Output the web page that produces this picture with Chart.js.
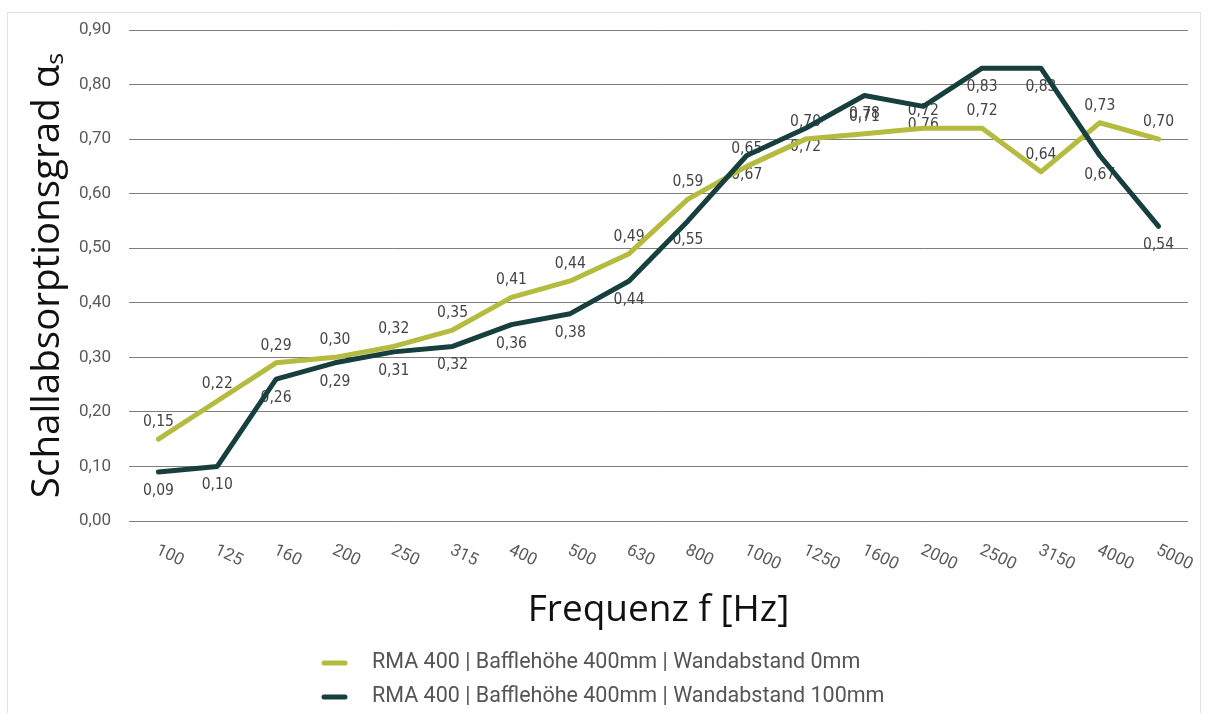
<!DOCTYPE html>
<html>
<head>
<meta charset="utf-8">
<script src="https://cdn.jsdelivr.net/npm/chart.js@4.4.0/dist/chart.umd.min.js"></script>
<style>
    html, body { margin: 0; padding: 0; background: #fff; }
    #frame { position: absolute; left: 7px; top: 12px; width: 1192px; height: 720px; border: 1px solid #e2e2e2; }
    #wrap { position: absolute; left: 0; top: 0; width: 1208px; height: 713px; }
</style>
</head>
<body>
<div id="frame"></div>
<div id="wrap"><canvas id="chart"></canvas></div>
<script>
const frequencies = ["100", "125", "160", "200", "250", "315", "400", "500", "630", "800", "1000", "1250", "1600", "2000", "2500", "3150", "4000", "5000"];
const wall0mm = [0.15, 0.22, 0.29, 0.30, 0.32, 0.35, 0.41, 0.44, 0.49, 0.59, 0.65, 0.70, 0.71, 0.72, 0.72, 0.64, 0.73, 0.70];
const wall100mm = [0.09, 0.10, 0.26, 0.29, 0.31, 0.32, 0.36, 0.38, 0.44, 0.55, 0.67, 0.72, 0.78, 0.76, 0.83, 0.83, 0.67, 0.54];
const seriesNames = ["RMA 400 | Bafflehöhe 400mm | Wandabstand 0mm", "RMA 400 | Bafflehöhe 400mm | Wandabstand 100mm"];

const yellow = "#b4bb3e";
const darkGreen = "#173f3d";
const narrow = "'Liberation Sans Narrow', 'DejaVu Sans Condensed', sans-serif";
const comma = (v) => Number(v).toFixed(2).replace(".", ",");

// labels, rotated tick texts and the legend are painted by hand
const extrasPlugin = {
    id: "extras",
    beforeDatasetsDraw(chart) {
        const ctx = chart.ctx;
        ctx.save();
        ctx.font = `15.5px ${narrow}`;
        ctx.fillStyle = "#444";
        ctx.textAlign = "center";
        ctx.textBaseline = "middle";
        chart.data.datasets.forEach((ds, i) => {
            const meta = chart.getDatasetMeta(i);
            const shift = i === 0 ? -17 : 19;
            meta.data.forEach((pt, j) => ctx.fillText(comma(ds.data[j]), pt.x, pt.y + shift));
        });
        ctx.restore();
    },
    afterDraw(chart) {
        const ctx = chart.ctx;
        const x = chart.scales.x;
        ctx.save();
        ctx.font = "17px Roboto, sans-serif";
        ctx.fillStyle = "#5a5a5a";
        ctx.textAlign = "left";
        ctx.textBaseline = "top";
        frequencies.forEach((f, i) => {
            ctx.save();
            ctx.translate(x.getPixelForValue(i) + 2, x.top + 21);
            ctx.rotate(25 * Math.PI / 180);
            ctx.fillText(f, 0, 0);
            ctx.restore();
        });

        ctx.font = "21.5px Roboto, sans-serif";
        ctx.textBaseline = "middle";
        ctx.lineCap = "round";
        ctx.lineWidth = 5;
        chart.data.datasets.forEach((ds, i) => {
            const y = 663 + i * 34;
            ctx.strokeStyle = ds.borderColor;
            ctx.beginPath();
            ctx.moveTo(324, y);
            ctx.lineTo(345, y);
            ctx.stroke();
            ctx.fillStyle = "#555";
            ctx.fillText(ds.label, 372, y);
        });
        ctx.restore();
    }
};

new Chart(document.getElementById("chart"), {
    type: "line",
    data: {
        labels: frequencies,
        datasets: [
            { label: seriesNames[0], data: wall0mm, borderColor: yellow, backgroundColor: yellow, borderWidth: 5, order: 2 },
            { label: seriesNames[1], data: wall100mm, borderColor: darkGreen, backgroundColor: darkGreen, borderWidth: 5, order: 1 }
        ]
    },
    options: {
        responsive: true,
        maintainAspectRatio: false,
        animation: false,
        layout: { padding: { left: 0, right: 20, top: 30, bottom: 80 } },
        elements: {
            line: { tension: 0, borderJoinStyle: "round", borderCapStyle: "round" },
            point: { radius: 0, hoverRadius: 0 }
        },
        plugins: { legend: { display: false }, tooltip: { enabled: false } },
        scales: {
            x: {
                offset: true,
                grid: { display: false },
                border: { display: false },
                ticks: { display: false },
                title: { display: true, text: "Frequenz f [Hz]", color: "#111", font: { family: "'Open Sans', sans-serif", size: 37 }, padding: 0 },
                afterFit: (s) => { s.height = 112; }
            },
            y: {
                min: 0,
                max: 0.9,
                ticks: { stepSize: 0.1, padding: 18, color: "#5a5a5a", font: { family: "Roboto, sans-serif", size: 17 }, callback: (v) => comma(v) },
                grid: { color: "#7d7d7d", lineWidth: 1, drawTicks: false },
                border: { display: false },
                title: { display: true, text: "Schallabsorptionsgrad αₛ", color: "#111", font: { family: "'Open Sans', sans-serif", size: 38.5 }, padding: { top: 25, bottom: 0 } },
                afterFit: (s) => { s.width = 129; }
            }
        }
    },
    plugins: [extrasPlugin]
});
</script>
</body>
</html>
